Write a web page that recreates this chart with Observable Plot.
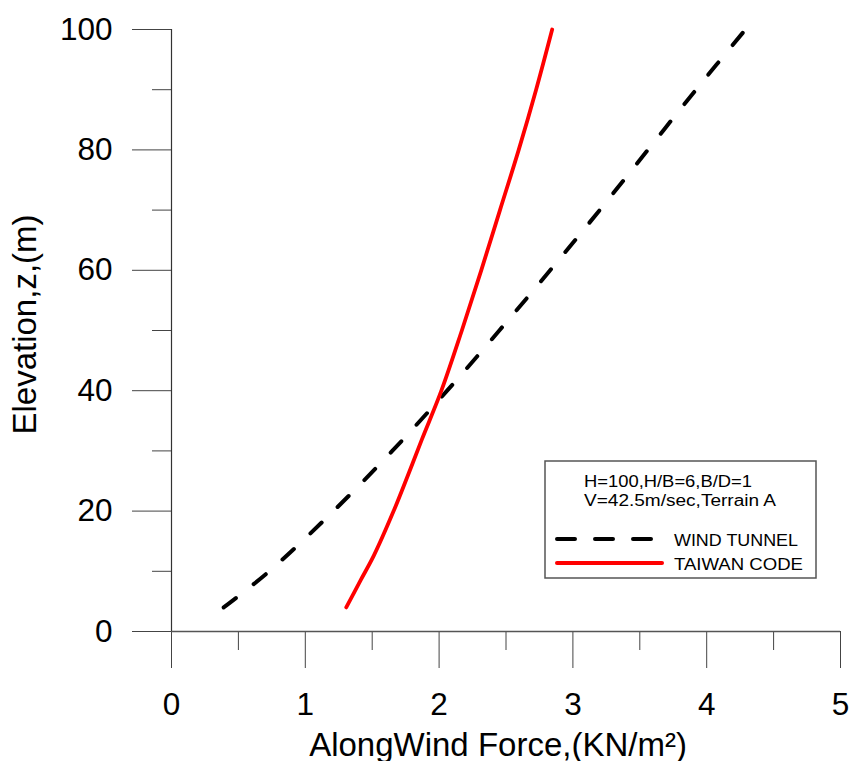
<!DOCTYPE html>
<html><head><meta charset="utf-8">
<script src="https://cdn.jsdelivr.net/npm/d3@7"></script>
<script src="https://cdn.jsdelivr.net/npm/@observablehq/plot@0.6"></script>
<style>
body{margin:0;background:#fff;}
#wrap{position:relative;width:852px;height:761px;font-family:"Liberation Sans",Arial,sans-serif;}
#legend{position:absolute;left:544px;top:460px;}
</style></head><body><div id="wrap"></div>
<script>
// Wind tunnel (dashed black): elevation z (m) and along-wind force (kN/m²)
const windZ = [4, 10, 20, 30, 40, 50, 60, 70, 80, 90, 100];
const windF = [0.39, 0.73, 1.21, 1.65, 2.06, 2.45, 2.83, 3.20, 3.56, 3.92, 4.29];
// Taiwan code (solid red)
const codeZ = [4, 8.5, 12.6, 20, 26, 32, 40, 50, 60, 70, 80, 90, 100];
const codeF = [1.306, 1.413, 1.512, 1.66, 1.768, 1.873, 2.017, 2.17, 2.315, 2.455, 2.595, 2.725, 2.845];

const xMajor = [0, 1, 2, 3, 4, 5];
const xMinor = [0.5, 1.5, 2.5, 3.5, 4.5];
const yMajor = [0, 20, 40, 60, 80, 100];
const yMinor = [10, 30, 50, 70, 90];
const xTitle = "AlongWind Force,(KN/m²)";
const yTitle = "Elevation,z,(m)";
const seriesNames = ["WIND TUNNEL", "TAIWAN CODE"];
const seriesColors = ["#000000", "#ff0000"];
const noteLines = ["H=100,H/B=6,B/D=1", "V=42.5m/sec,Terrain A"];

const wind = windZ.map((z, i) => ({z, f: windF[i]}));
const code = codeZ.map((z, i) => ({z, f: codeF[i]}));

const font = "Liberation Sans, Arial, sans-serif";
const plot = Plot.plot({
  width: 852, height: 761,
  marginLeft: 171, marginRight: 12, marginTop: 29, marginBottom: 130,
  style: {fontFamily: font, background: "white", color: "black"},
  x: {domain: [0, 5], label: null},
  y: {domain: [0, 100], label: null},
  marks: [
    Plot.axisX(xMinor, {tickSize: 19, tickFormat: () => "", stroke: "#444", label: null}),
    Plot.axisX(xMajor, {tickSize: 37, tickPadding: 24, fontSize: 31.5, tickFormat: d => String(d), stroke: "#444", label: null}),
    Plot.axisY(yMinor, {tickSize: 19, tickFormat: () => "", stroke: "#444", label: null}),
    Plot.axisY(yMajor, {tickSize: 39, tickPadding: 20, fontSize: 31.5, tickFormat: d => String(d), stroke: "#444", label: null}),
    Plot.ruleY([0], {stroke: "#555", strokeWidth: 1.5}),
    Plot.ruleX([0], {stroke: "#333", strokeWidth: 1.2}),
    Plot.line(wind, {x: "f", y: "z", stroke: seriesColors[0], strokeWidth: 4, strokeDasharray: "15.5,22.5", strokeLinecap: "round", curve: "catmull-rom"}),
    Plot.line(code, {x: "f", y: "z", stroke: seriesColors[1], strokeWidth: 3.8, strokeLinecap: "round", curve: "catmull-rom"}),
    Plot.text([xTitle], {frameAnchor: "bottom", dy: 124, dx: -8, lineAnchor: "bottom", textAnchor: "middle", fontSize: 33, fill: "black"}),
    Plot.text([yTitle], {frameAnchor: "left", rotate: -90, dx: -136, dy: -6, lineAnchor: "bottom", textAnchor: "middle", fontSize: 33, fill: "black"})
  ]
});
const wrap = document.getElementById("wrap");
wrap.appendChild(plot);

// legend box
const lg = d3.select(wrap).append("svg").attr("id", "legend")
  .attr("width", 274).attr("height", 120)
  .style("font-family", font);
lg.append("rect").attr("x", 1).attr("y", 1).attr("width", 271).attr("height", 117)
  .attr("fill", "white").attr("stroke", "#555").attr("stroke-width", 1.5);
const noteWidths = [168, 192];
noteLines.forEach((t, i) => lg.append("text").attr("x", 40).attr("y", 27 + i * 19)
  .attr("font-size", 16).attr("textLength", noteWidths[i]).attr("lengthAdjust", "spacingAndGlyphs").text(t));
lg.append("line").attr("x1", 13).attr("x2", 108).attr("y1", 79).attr("y2", 79)
  .attr("stroke", seriesColors[0]).attr("stroke-width", 4).attr("stroke-dasharray", "18,20").attr("stroke-linecap", "round");
lg.append("line").attr("x1", 13).attr("x2", 118).attr("y1", 103).attr("y2", 103)
  .attr("stroke", seriesColors[1]).attr("stroke-width", 4).attr("stroke-linecap", "round");
const nameWidths = [124, 129];
seriesNames.forEach((t, i) => lg.append("text").attr("x", 130).attr("y", 86 + i * 24)
  .attr("font-size", 16).attr("textLength", nameWidths[i]).attr("lengthAdjust", "spacingAndGlyphs").text(t));
</script></body></html>
